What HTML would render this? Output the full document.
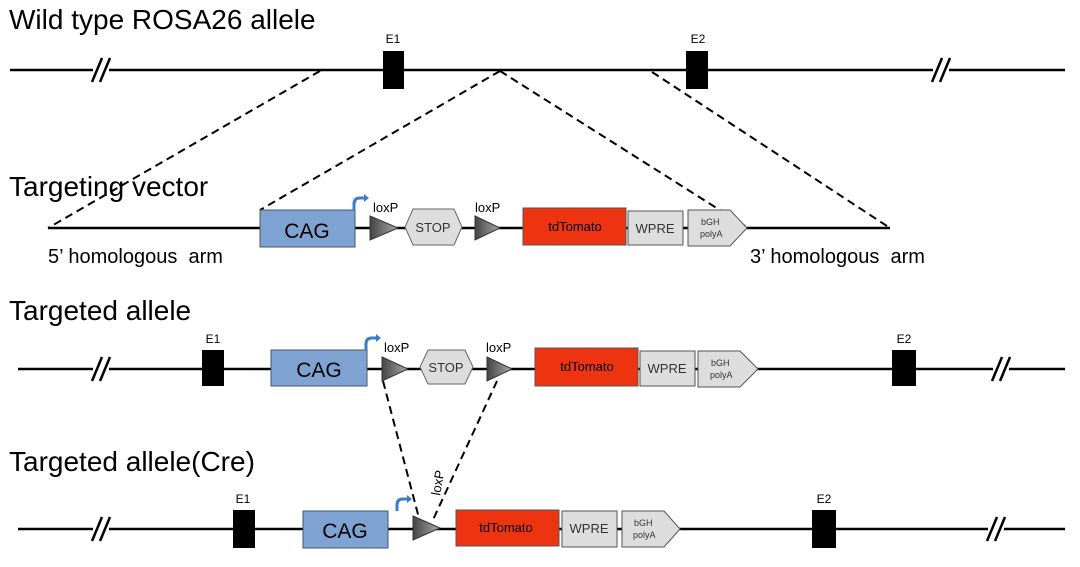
<!DOCTYPE html>
<html><head><style>body{margin:0;background:#fff}svg{display:block}text{font-family:"Liberation Sans",sans-serif}</style></head><body>
<svg width="1080" height="567" viewBox="0 0 1080 567" xmlns="http://www.w3.org/2000/svg">
<defs>
<linearGradient id="g" x1="0" x2="1"><stop offset="0" stop-color="#444"/><stop offset="1" stop-color="#aaa"/></linearGradient>
<g id="brk"><rect x="-7" y="-4" width="16" height="8" fill="#fff"/><line x1="-8" y1="12" x2="2" y2="-12" stroke="#000" stroke-width="2.5"/><line x1="0" y1="12" x2="10" y2="-12" stroke="#000" stroke-width="2.5"/></g>
</defs>
<g font-size="28" fill="#000">
<text x="9" y="29">Wild type ROSA26 allele</text>
<text x="9" y="196">Targeting vector</text>
<text x="9" y="320">Targeted allele</text>
<text x="9" y="471">Targeted allele(Cre)</text>
</g>
<!-- row1 -->
<line x1="10" y1="70" x2="1065" y2="70" stroke="#000" stroke-width="2.5"/>
<use href="#brk" x="100" y="70"/><use href="#brk" x="940" y="70"/>
<rect x="383" y="51" width="21" height="38" fill="#000"/><rect x="686" y="51" width="22" height="38" fill="#000"/>
<text x="393" y="43" font-size="12" text-anchor="middle">E1</text><text x="698" y="43" font-size="12" text-anchor="middle">E2</text>
<g stroke="#000" stroke-width="2" stroke-dasharray="8,5" fill="none">
<line x1="320" y1="71" x2="48" y2="228"/><line x1="500" y1="71" x2="260" y2="210"/><line x1="500" y1="71" x2="745" y2="226"/><line x1="652" y1="72" x2="890" y2="228"/>
<line x1="383" y1="381" x2="420" y2="522"/><line x1="497" y1="381" x2="432" y2="522"/>
</g>
<!-- row2 -->
<line x1="48" y1="228" x2="890" y2="228" stroke="#000" stroke-width="2.5"/>
<rect x="260" y="210" width="95" height="37" fill="#7ea3d2" stroke="#456" stroke-width="1"/>
<text x="307" y="238" font-size="21" text-anchor="middle">CAG</text>
<path d="M354 210 v-6 q0-6 6-6 h5" stroke="#3a7dc9" stroke-width="3" fill="none"/><path d="M364 194 l5 4 l-5 4z" fill="#3a7dc9"/>
<polygon points="370,216 398,228 370,240" fill="url(#g)" stroke="#333"/>
<text x="373" y="212" font-size="13">loxP</text>
<polygon points="413,209 454,209 462,227 454,245 413,245 405,227" fill="#ddd" stroke="#666"/>
<text x="433" y="232" font-size="13" text-anchor="middle" fill="#333">STOP</text>
<polygon points="475,216 500,228 475,240" fill="url(#g)" stroke="#333"/>
<text x="475" y="212" font-size="13">loxP</text>
<rect x="523" y="208" width="103" height="37" fill="#ee3311" stroke="#555"/>
<text x="575" y="231" font-size="13" text-anchor="middle">tdTomato</text>
<rect x="628" y="211" width="55" height="34" fill="#ddd" stroke="#555"/>
<text x="655" y="233" font-size="13" text-anchor="middle" fill="#333">WPRE</text>
<polygon points="688,210 730,210 747,228 730,246 688,246" fill="#ddd" stroke="#555"/>
<text x="701" y="225" font-size="9" fill="#333">bGH</text><text x="700" y="237" font-size="9" fill="#333">polyA</text>
<text x="48" y="263" font-size="20" xml:space="preserve" style="white-space:pre">5’ homologous  arm</text>
<text x="750" y="263" font-size="20" xml:space="preserve" style="white-space:pre">3’ homologous  arm</text>
<!-- row3 -->
<line x1="18" y1="369" x2="1065" y2="369" stroke="#000" stroke-width="2.5"/>
<use href="#brk" x="100" y="369"/><use href="#brk" x="1000" y="369"/>
<rect x="202" y="350" width="22" height="36" fill="#000"/><rect x="892" y="350" width="24" height="36" fill="#000"/>
<text x="213" y="343" font-size="12" text-anchor="middle">E1</text><text x="904" y="343" font-size="12" text-anchor="middle">E2</text>
<rect x="271" y="350" width="96" height="36" fill="#7ea3d2" stroke="#456"/>
<text x="319" y="377" font-size="21" text-anchor="middle">CAG</text>
<path d="M366 350 v-6 q0-6 6-6 h5" stroke="#3a7dc9" stroke-width="3" fill="none"/><path d="M376 334 l5 4 l-5 4z" fill="#3a7dc9"/>
<polygon points="382,357 408,369 382,381" fill="url(#g)" stroke="#333"/>
<text x="384" y="352" font-size="13">loxP</text>
<polygon points="428,350 465,350 473,367 465,384 428,384 420,367" fill="#ddd" stroke="#666"/>
<text x="446" y="372" font-size="13" text-anchor="middle" fill="#333">STOP</text>
<polygon points="487,357 512,369 487,381" fill="url(#g)" stroke="#333"/>
<text x="486" y="352" font-size="13">loxP</text>
<rect x="535" y="348" width="103" height="38" fill="#ee3311" stroke="#555"/>
<text x="587" y="371" font-size="13" text-anchor="middle">tdTomato</text>
<rect x="640" y="351" width="55" height="35" fill="#ddd" stroke="#555"/>
<text x="667" y="373" font-size="13" text-anchor="middle" fill="#333">WPRE</text>
<polygon points="698,351 740,351 758,369 740,387 698,387" fill="#ddd" stroke="#555"/>
<text x="711" y="366" font-size="9" fill="#333">bGH</text><text x="710" y="378" font-size="9" fill="#333">polyA</text>
<!-- row4 -->
<line x1="18" y1="529" x2="1065" y2="529" stroke="#000" stroke-width="2.5"/>
<use href="#brk" x="100" y="529"/><use href="#brk" x="995" y="529"/>
<rect x="233" y="510" width="22" height="38" fill="#000"/><rect x="812" y="510" width="24" height="38" fill="#000"/>
<text x="243" y="503" font-size="12" text-anchor="middle">E1</text><text x="824" y="503" font-size="12" text-anchor="middle">E2</text>
<rect x="303" y="511" width="85" height="37" fill="#7ea3d2" stroke="#456"/>
<text x="345" y="538" font-size="21" text-anchor="middle">CAG</text>
<path d="M397 511 v-6 q0-6 6-6 h6" stroke="#3a7dc9" stroke-width="3" fill="none"/><path d="M407 495 l5 4 l-5 4z" fill="#3a7dc9"/>
<polygon points="413,516 440,528 413,540" fill="url(#g)" stroke="#333"/>
<text x="0" y="0" font-size="13" transform="translate(440,496) rotate(-80)">loxP</text>
<rect x="456" y="510" width="103" height="36" fill="#ee3311" stroke="#555"/>
<text x="506" y="532" font-size="13" text-anchor="middle">tdTomato</text>
<rect x="562" y="511" width="55" height="36" fill="#ddd" stroke="#555"/>
<text x="589" y="533" font-size="13" text-anchor="middle" fill="#333">WPRE</text>
<polygon points="622,511 664,511 680,529 664,547 622,547" fill="#ddd" stroke="#555"/>
<text x="634" y="526" font-size="9" fill="#333">bGH</text><text x="633" y="538" font-size="9" fill="#333">polyA</text>
</svg>
</body></html>
